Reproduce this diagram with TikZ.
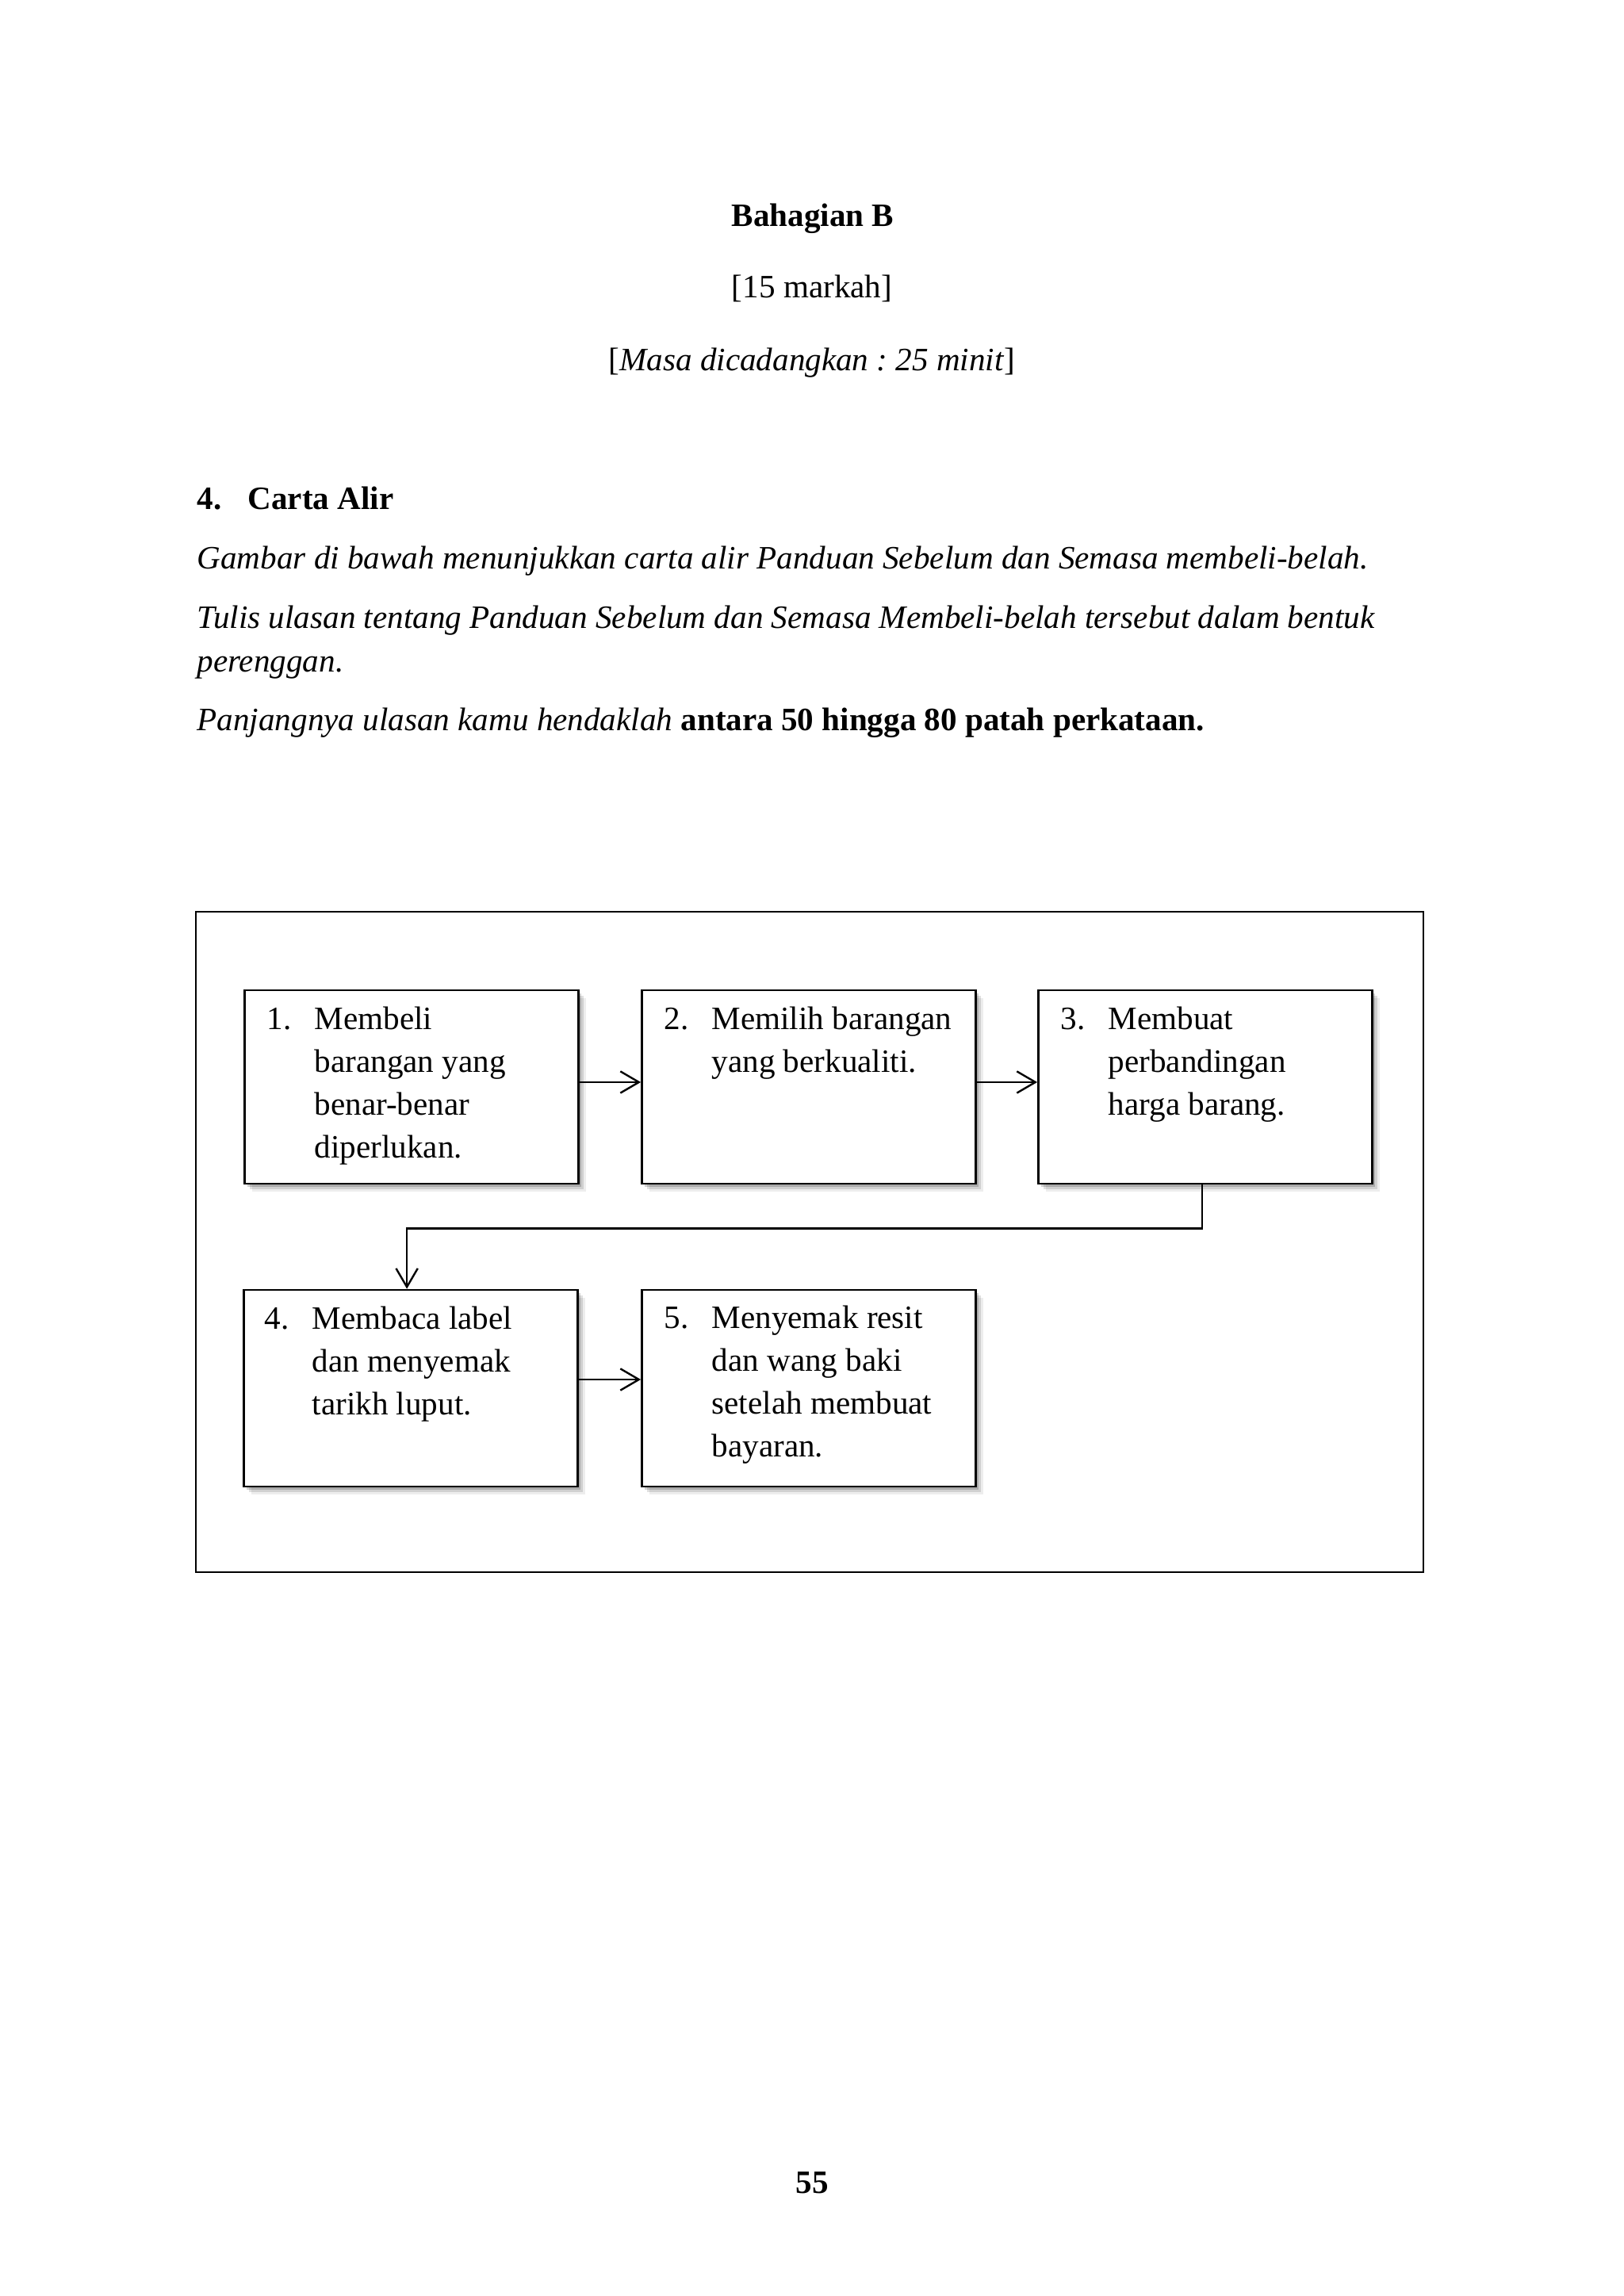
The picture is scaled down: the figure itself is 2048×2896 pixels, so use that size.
\documentclass[tikz,border=0pt]{standalone}
\usepackage{fontspec}
\setmainfont{Liberation Serif}
\usetikzlibrary{arrows.meta,shadows}
\frenchspacing
\begin{document}
\begin{tikzpicture}[x=0.10256mm, y=-0.10256mm,
  body/.style={font=\fontsize{12pt}{15.75pt}\selectfont, inner sep=0pt},
  lw/.style={body, anchor=base west},
  ctr/.style={body, anchor=base},
  box/.style={draw, line width=0.8pt, fill=white, minimum width=43.18mm,
    drop shadow={shadow xshift=1.0mm, shadow yshift=-1.0mm, opacity=0.07, fill=black},
    drop shadow={shadow xshift=0.7mm, shadow yshift=-0.7mm, opacity=0.12, fill=black},
    drop shadow={shadow xshift=0.4mm, shadow yshift=-0.4mm, opacity=0.18, fill=black}},
  toprow/.style={box, minimum height=25.02mm},
  botrow/.style={box, minimum height=25.43mm},
  boxtext/.style={body, anchor=base west},
  arr/.style={line width=0.7pt, -{Straight Barb[length=2.4mm, width=2.8mm, line width=0.7pt]}}
]
\useasboundingbox (0,0) rectangle (2048,2896);
\fill[white] (0,0) rectangle (2048,2896);

% header
\node[ctr, font=\fontsize{12pt}{15.75pt}\selectfont\bfseries] (h1) at (1025,285) {Bahagian B};
\node[ctr] (h2) at (1024,375) {[15 markah]};
\node[ctr] (h3) at (1024,467) {[\textit{Masa dicadangkan : 25 minit}]};
\node[lw, font=\fontsize{12pt}{15.75pt}\selectfont\bfseries] (q4) at (248,642) {\makebox[6.56mm][l]{4.}Carta Alir};
\node[lw] (p1) at (248,717) {\textit{Gambar di bawah menunjukkan carta alir Panduan Sebelum dan Semasa membeli-belah.}};
\node[lw] (p2) at (248,792) {\textit{Tulis ulasan tentang Panduan Sebelum dan Semasa Membeli-belah tersebut dalam bentuk}};
\node[lw] (p3) at (248,847) {\textit{perenggan.}};
\node[lw] (p4) at (248,921) {\textit{Panjangnya ulasan kamu hendaklah} \textbf{antara 50 hingga 80 patah perkataan.}};

% frame
\draw[line width=0.85pt] (247,1150) rectangle (1795,1983);

% boxes
\node[toprow] (b1) at (519,1371) {};
\node[toprow] (b2) at (1020,1371) {};
\node[toprow] (b3) at (1520,1371) {};
\node[botrow] (b4) at (518,1751) {};
\node[botrow] (b5) at (1020,1751) {};

\node[boxtext] (t1) at ([xshift=2.97mm, yshift=-5.23mm]b1.north west)
  {\begin{tabular}[t]{@{}p{6.15mm}@{}l@{}}1.&Membeli\\&barangan yang\\&benar-benar\\&diperlukan.\end{tabular}};
\node[boxtext] (t2) at ([xshift=2.97mm, yshift=-5.23mm]b2.north west)
  {\begin{tabular}[t]{@{}p{6.15mm}@{}l@{}}2.&Memilih barangan\\&yang berkualiti.\end{tabular}};
\node[boxtext] (t3) at ([xshift=2.97mm, yshift=-5.23mm]b3.north west)
  {\begin{tabular}[t]{@{}p{6.15mm}@{}l@{}}3.&Membuat\\&perbandingan\\&harga barang.\end{tabular}};
\node[boxtext] (t4) at ([xshift=2.77mm, yshift=-5.23mm]b4.north west)
  {\begin{tabular}[t]{@{}p{6.15mm}@{}l@{}}4.&Membaca label\\&dan menyemak\\&tarikh luput.\end{tabular}};
\node[boxtext] (t5) at ([xshift=2.97mm, yshift=-5.13mm]b5.north west)
  {\begin{tabular}[t]{@{}p{6.15mm}@{}l@{}}5.&Menyemak resit\\&dan wang baki\\&setelah membuat\\&bayaran.\end{tabular}};

% connectors
\draw[arr] ([yshift=0.62mm]b1.east) -- ([yshift=0.62mm]b2.west);
\draw[arr] ([yshift=0.62mm]b2.east) -- ([yshift=0.62mm]b3.west);
\draw[arr] ([xshift=-0.4mm]b3.south) -- ++(0,55) -| ([xshift=-0.5mm]b4.north);
\draw[arr] ([yshift=1.13mm]b4.east) -- ([yshift=1.13mm]b5.west);

% page number
\node[ctr, font=\fontsize{12pt}{15.75pt}\selectfont\bfseries] (pg) at (1024,2766) {55};
\end{tikzpicture}
\end{document}
